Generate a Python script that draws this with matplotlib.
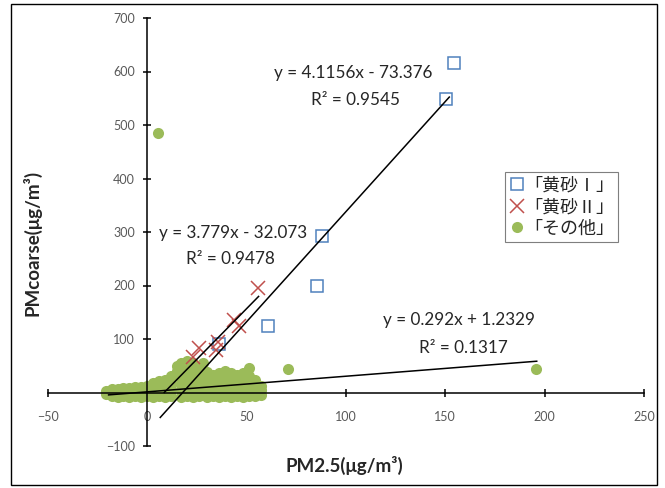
import matplotlib.pyplot as plt
from matplotlib.patches import Rectangle
from matplotlib.lines import Line2D

plt.rcParams['font.family'] = ['Lato', 'Noto Sans CJK JP', 'DejaVu Sans']

# 「黄砂Ⅰ」
kosa1_x = [154.5, 150.5, 88, 85.5, 60.5, 36]
kosa1_y = [616, 549, 292, 200, 124, 90]

# 「黄砂Ⅱ」
kosa2_x = [55.5, 43.5, 46, 35.5, 34.5, 26, 23]
kosa2_y = [195, 135, 124, 94, 79, 84, 66]

# 「その他」: the dense cluster near the origin, listed column by column (x: [y, ...])
other_cols = {
    -21: [-3, 3], -18: [-7, 0, 6], -15: [-8, -1, 7], -12: [-7, 1, 9],
    -9: [-8, 0, 8], -6: [-7, 2, 10], -3: [-8, 1, 11], 0: [-7, 3, 13],
    3: [-8, 2, 11, 17], 6: [-7, 4, 14, 21], 9: [-8, 2, 12, 23],
    12: [-7, 5, 17, 30], 15: [40, 50], 17: [-8, 4, 14, 26, 38, 55],
    20: [-7, 8, 20, 33, 48, 58], 23: [-8, 3, 15, 28, 42, 56],
    26: [-7, 6, 18, 30, 44], 28: [55], 30: [-8, 4, 16, 28, 38],
    33: [-7, 8, 20, 32], 36: [-8, 3, 14, 26, 36], 39: [-7, 7, 18, 30, 40],
    42: [-8, 4, 15, 27, 36], 45: [-7, 8, 20, 32], 48: [-8, 3, 14, 26, 36],
    51: [-7, 6, 18, 30, 45], 54: [-6, 5, 16, 24], 57: [-4, 4, 12],
}
other_extra_x = [71, 5.5, 195.5]
other_extra_y = [44, 485, 43]

# trendlines: (slope, intercept, x start, x end)
fit1 = (4.1156, -73.376, 6.5, 152)
fit2 = (3.779, -32.073, 8.5, 56)
fit3 = (0.292, 1.2329, -19.5, 196)

labels = ['「黄砂Ⅰ」', '「黄砂Ⅱ」', '「その他」']
eq_texts = [('y = 4.1156x - 73.376', 'R² = 0.9545'),
            ('y = 3.779x - 32.073', 'R² = 0.9478'),
            ('y = 0.292x + 1.2329', 'R² = 0.1317')]
eq_pos = [((103.75, 597), (104.75, 547)),
          ((43, 298), (41.75, 249)),
          ((156.75, 135), (159, 84))]

blue = '#4F81BD'
red = '#C0504D'
green = '#9BBB59'

other_x = []
other_y = []
for x, ys in other_cols.items():
    for y in ys:
        other_x.append(x)
        other_y.append(y)
other_x += other_extra_x
other_y += other_extra_y

fig = plt.figure(figsize=(6.65, 4.88), dpi=100)
ax = fig.add_axes([48 / 665, 1 - 446 / 488, 596 / 665, 428 / 488])

ax.plot(other_x, other_y, 'o', color=green, markersize=8, markeredgewidth=0, zorder=2)
ax.plot(kosa1_x, kosa1_y, 's', markerfacecolor='none', markeredgecolor=blue,
        markersize=9.2, markeredgewidth=1.1, zorder=3)
ax.plot(kosa2_x, kosa2_y, 'x', color=red, markersize=9.5, markeredgewidth=1.1, zorder=3)

for slope, icpt, x0, x1 in [fit1, fit2, fit3]:
    ax.plot([x0, x1], [slope * x0 + icpt, slope * x1 + icpt], color='black', lw=1.1, zorder=4)

for (l1, l2), (p1, p2) in zip(eq_texts, eq_pos):
    ax.text(p1[0], p1[1], l1, ha='center', va='center', fontsize=12.3, color='#262626')
    ax.text(p2[0], p2[1], l2, ha='center', va='center', fontsize=12.3, color='#262626')

ax.set_xlim(-50, 250)
ax.set_ylim(-100, 700)
ax.set_xticks(range(-50, 251, 50))
ax.set_yticks(range(-100, 701, 100))
ax.spines['left'].set_position(('data', 0))
ax.spines['bottom'].set_position(('data', 0))
ax.spines['top'].set_visible(False)
ax.spines['right'].set_visible(False)
for s in ['left', 'bottom']:
    ax.spines[s].set_linewidth(1.1)
ax.tick_params(direction='inout', length=6, width=1.1, labelsize=9, labelcolor='#595959')
ax.tick_params(axis='x', pad=10)
ax.tick_params(axis='y', pad=6)

fig.text(344 / 665, 1 - 465 / 488, 'PM2.5(μg/m³)', ha='center', va='center',
         fontsize=13.5, fontweight='bold', color='#262626')
fig.text(32 / 665, 1 - 243 / 488, 'PMcoarse(μg/m³)', ha='center', va='center',
         rotation=90, fontsize=13.5, fontweight='bold', color='#262626')

handles = [
    Line2D([], [], ls='none', marker='s', markerfacecolor='none', markeredgecolor=blue,
           markersize=9.2, markeredgewidth=1.1),
    Line2D([], [], ls='none', marker='x', color=red, markersize=9.5, markeredgewidth=1.1),
    Line2D([], [], ls='none', marker='o', color=green, markersize=8, markeredgewidth=0),
]
leg = ax.legend(handles, labels, loc='upper left', bbox_to_anchor=(505 / 665, 1 - 172 / 488),
                bbox_transform=fig.transFigure, borderaxespad=0,
                prop={'family': ['Noto Sans CJK JP'], 'size': 13},
                handlelength=0.8, handletextpad=0.0, borderpad=0.25, labelspacing=0.2,
                fancybox=False, framealpha=1, edgecolor='#7f7f7f')
leg.get_frame().set_linewidth(0.8)
for t in leg.get_texts():
    t.set_color('#262626')

fig.patches.append(Rectangle((11 / 665, 3 / 488), 646 / 665, 481 / 488, transform=fig.transFigure,
                             fill=False, edgecolor='black', lw=1.0))

fig.savefig('out.png', dpi=100)
